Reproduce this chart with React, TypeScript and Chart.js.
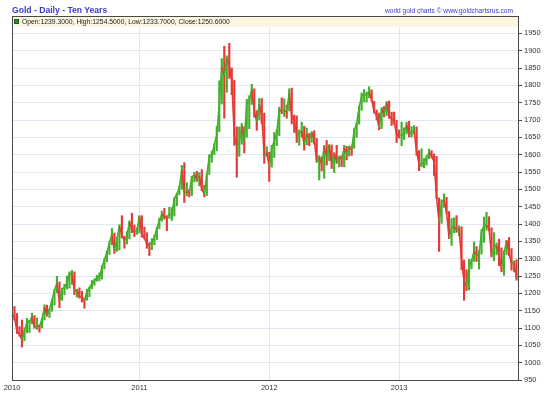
import React, { useEffect, useRef } from "react";
import { Chart, registerables } from "chart.js";

Chart.register(...registerables);

// Weekly OHLC summaries (week ending Friday)
const firstOpen = 1097;

const close2010 = [1138, 1131, 1090, 1083, 1065, 1092, 1117, 1118, 1133, 1102, 1107, 1105, 1125, 1161, 1136, 1155, 1180, 1209, 1229, 1176, 1212, 1217, 1229, 1256, 1256, 1208, 1210, 1190, 1189, 1181, 1204, 1216, 1228, 1236, 1246, 1246, 1275, 1297, 1318, 1345, 1369, 1325, 1357, 1394, 1366, 1352, 1364, 1406, 1385, 1379, 1380, 1421];
const high2010 = [1140, 1162, 1142, 1104, 1123, 1100, 1128, 1122, 1143, 1136, 1129, 1109, 1127, 1167, 1166, 1156, 1181, 1211, 1249, 1233, 1215, 1226, 1250, 1262, 1266, 1262, 1212, 1216, 1206, 1184, 1212, 1218, 1237, 1242, 1252, 1259, 1280, 1300, 1321, 1349, 1387, 1374, 1361, 1398, 1424, 1365, 1378, 1409, 1431, 1397, 1388, 1424];
const low2010 = [1096, 1123, 1084, 1076, 1045, 1063, 1086, 1087, 1112, 1099, 1096, 1088, 1100, 1123, 1134, 1130, 1148, 1166, 1202, 1159, 1180, 1196, 1212, 1215, 1226, 1196, 1189, 1186, 1175, 1157, 1180, 1190, 1213, 1223, 1235, 1236, 1241, 1270, 1291, 1312, 1340, 1315, 1321, 1325, 1360, 1330, 1342, 1357, 1375, 1364, 1370, 1374];

const close2011 = [1369, 1360, 1342, 1341, 1348, 1361, 1388, 1409, 1429, 1421, 1419, 1428, 1428, 1474, 1486, 1504, 1556, 1491, 1492, 1491, 1536, 1542, 1529, 1539, 1500, 1486, 1542, 1595, 1600, 1628, 1658, 1747, 1852, 1828, 1876, 1857, 1813, 1656, 1624, 1636, 1683, 1642, 1747, 1755, 1788, 1725, 1696, 1746, 1711, 1598, 1606, 1565];
const high2011 = [1424, 1391, 1375, 1346, 1358, 1368, 1390, 1417, 1437, 1445, 1424, 1448, 1447, 1476, 1489, 1510, 1569, 1577, 1519, 1500, 1537, 1549, 1552, 1548, 1557, 1512, 1545, 1600, 1610, 1632, 1681, 1813, 1877, 1913, 1885, 1921, 1850, 1815, 1680, 1680, 1690, 1680, 1760, 1770, 1803, 1790, 1727, 1762, 1762, 1720, 1623, 1607];
const low2011 = [1362, 1357, 1330, 1309, 1326, 1340, 1355, 1386, 1408, 1414, 1381, 1416, 1410, 1423, 1453, 1484, 1500, 1462, 1481, 1478, 1482, 1521, 1523, 1510, 1496, 1478, 1482, 1543, 1578, 1600, 1611, 1666, 1746, 1705, 1780, 1820, 1773, 1627, 1535, 1595, 1630, 1605, 1650, 1675, 1745, 1708, 1670, 1700, 1690, 1575, 1595, 1523];

const close2012 = [1617, 1640, 1663, 1729, 1725, 1726, 1725, 1777, 1710, 1700, 1657, 1662, 1668, 1630, 1660, 1643, 1664, 1645, 1580, 1592, 1572, 1622, 1592, 1627, 1571, 1604, 1580, 1594, 1585, 1620, 1603, 1620, 1615, 1669, 1690, 1737, 1770, 1772, 1772, 1780, 1759, 1724, 1713, 1677, 1731, 1715, 1751, 1712, 1702, 1696, 1657, 1656];
const high2012 = [1627, 1664, 1671, 1737, 1764, 1761, 1743, 1790, 1792, 1714, 1712, 1672, 1694, 1682, 1677, 1661, 1666, 1669, 1647, 1597, 1594, 1627, 1641, 1629, 1628, 1606, 1627, 1596, 1597, 1627, 1624, 1625, 1625, 1675, 1692, 1741, 1778, 1788, 1781, 1796, 1787, 1754, 1729, 1720, 1736, 1739, 1753, 1755, 1722, 1723, 1699, 1671];
const low2012 = [1564, 1592, 1626, 1655, 1718, 1710, 1705, 1726, 1689, 1664, 1635, 1627, 1650, 1613, 1628, 1626, 1635, 1630, 1578, 1527, 1553, 1532, 1570, 1583, 1560, 1548, 1575, 1565, 1566, 1565, 1585, 1596, 1598, 1618, 1650, 1688, 1728, 1752, 1752, 1764, 1754, 1720, 1700, 1672, 1675, 1709, 1713, 1705, 1684, 1688, 1635, 1648];

const close2013 = [1656, 1662, 1687, 1658, 1667, 1667, 1609, 1572, 1573, 1577, 1592, 1607, 1596, 1580, 1476, 1405, 1462, 1469, 1434, 1360, 1387, 1393, 1383, 1387, 1296, 1234, 1223, 1278, 1293, 1322, 1310, 1313, 1377, 1396, 1396, 1387, 1308, 1333, 1338, 1310, 1272, 1315, 1352, 1315, 1287, 1288, 1244, 1250];
const high2013 = [1694, 1678, 1694, 1696, 1681, 1684, 1680, 1612, 1617, 1589, 1597, 1616, 1612, 1602, 1595, 1475, 1470, 1487, 1477, 1436, 1416, 1418, 1424, 1395, 1392, 1296, 1268, 1298, 1298, 1348, 1335, 1323, 1384, 1420, 1434, 1421, 1389, 1375, 1345, 1356, 1331, 1323, 1353, 1361, 1329, 1294, 1297, 1265];
const low2013 = [1626, 1644, 1660, 1651, 1651, 1660, 1598, 1554, 1565, 1562, 1570, 1588, 1591, 1540, 1473, 1321, 1402, 1448, 1430, 1358, 1338, 1375, 1376, 1366, 1268, 1180, 1208, 1210, 1271, 1292, 1292, 1270, 1313, 1347, 1382, 1380, 1305, 1294, 1311, 1280, 1262, 1252, 1312, 1309, 1267, 1262, 1238, 1221];

const firstWeekEnding = new Date(2010, 0, 8);
const yTicks = { min: 950, max: 2000, step: 50, lastLabel: 1950 };
const titleText = "Gold - Daily - Ten Years";
const creditText = "world gold charts \u00A9 www.goldchartsrus.com";
const legendText = "Open:1239.3000, High:1254.5000, Low:1233.7000, Close:1250.6000";

const GREEN = "#44b02c";
const RED = "#e53a36";
const GRID = "#dde8f2";
const FRAME = "#4a4a4a";
const FONT = "'Liberation Sans', Arial, sans-serif";

export default function App() {
  const ref = useRef<HTMLCanvasElement | null>(null);

  useEffect(() => {
    const closes = [...close2010, ...close2011, ...close2012, ...close2013];
    const highs = [...high2010, ...high2011, ...high2012, ...high2013];
    const lows = [...low2010, ...low2011, ...low2012, ...low2013];
    const dates = closes.map((_, i) => {
      const d = new Date(firstWeekEnding);
      d.setDate(d.getDate() + 7 * i);
      return d;
    });
    const labels = dates.map((d) => d.toISOString().slice(0, 10));
    const yearLabel = (i: number): string => {
      if (i === 0) return String(dates[0].getFullYear());
      if (i + 1 < dates.length && dates[i + 1].getFullYear() !== dates[i].getFullYear())
        return String(dates[i + 1].getFullYear());
      return "";
    };
    const up = closes.map((c, i) => c >= (i === 0 ? firstOpen : closes[i - 1]));

    const framePlugin = {
      id: "frame",
      beforeDatasetsDraw(chart: any) {
        const { ctx, chartArea: a } = chart;
        ctx.save();
        ctx.fillStyle = "#fcf6e3";
        ctx.fillRect(a.left, a.top, a.right - a.left, 11);
        ctx.restore();
      },
      afterDatasetsDraw(chart: any) {
        const { ctx, chartArea: a } = chart;
        ctx.save();
        ctx.strokeStyle = FRAME;
        ctx.lineWidth = 1;
        ctx.strokeRect(a.left + 0.5, a.top + 0.5, a.right - a.left - 1, a.bottom - a.top);
        ctx.restore();
      },
    };

    const chart = new Chart(ref.current as HTMLCanvasElement, {
      type: "bar",
      data: {
        labels,
        datasets: [
          {
            type: "bar",
            data: lows.map((l, i) => [l, highs[i]]),
            backgroundColor: up.map((u) => (u ? GREEN : RED)),
            barThickness: 1.5,
            order: 2,
          } as any,
          {
            type: "line",
            data: closes,
            borderWidth: 1.6,
            pointRadius: 0,
            tension: 0,
            borderColor: GREEN,
            segment: {
              borderColor: (c: any) => (c.p1.parsed.y >= c.p0.parsed.y ? GREEN : RED),
            },
            order: 1,
          } as any,
        ],
      },
      options: {
        animation: false,
        responsive: false,
        devicePixelRatio: 1,
        layout: { padding: { left: 12, top: 16, right: 0, bottom: 0 } },
        plugins: { legend: { display: false }, tooltip: { enabled: false }, title: { display: false } },
        scales: {
          x: {
            type: "category",
            offset: false,
            border: { display: false },
            grid: {
              offset: false,
              drawTicks: false,
              color: (c: any) => (c.index !== undefined && yearLabel(c.index) ? GRID : "rgba(0,0,0,0)"),
            },
            ticks: {
              autoSkip: false,
              maxRotation: 0,
              minRotation: 0,
              padding: 3,
              color: "#333",
              font: { family: FONT, size: 7.5 },
              callback: (_v: any, i: number) => yearLabel(i),
            },
            afterFit: (s: any) => {
              s.height = 17;
            },
          },
          y: {
            position: "right",
            min: yTicks.min,
            max: yTicks.max,
            border: { display: false },
            grid: { color: GRID, tickColor: FRAME, tickLength: 3 },
            ticks: {
              stepSize: yTicks.step,
              padding: 2,
              color: "#333",
              font: { family: FONT, size: 7.5 },
              callback: (v: any) => String(v),
            },
            afterBuildTicks: (s: any) => {
              s.ticks = s.ticks.filter((t: any) => t.value <= yTicks.lastLabel);
            },
            afterFit: (s: any) => {
              s.width = 28;
            },
          },
        },
      },
      plugins: [framePlugin],
    });
    return () => chart.destroy();
  }, []);

  return (
    <div style={{ position: "fixed", left: 0, top: 0, width: 547, height: 397, background: "#fff", fontFamily: FONT }}>
      <canvas ref={ref} width={547} height={397} style={{ position: "absolute", left: 0, top: 0 }} />
      <div style={{ position: "absolute", left: 12, top: 5, fontSize: 8.6, lineHeight: "10px", fontWeight: "bold", color: "#3a3ad0", whiteSpace: "nowrap" }}>
        {titleText}
      </div>
      <div style={{ position: "absolute", right: 34, top: 6, fontSize: 6.6, lineHeight: "10px", color: "#3a3ad0", whiteSpace: "nowrap" }}>
        {creditText}
      </div>
      <div style={{ position: "absolute", left: 14, top: 19, width: 5, height: 5, background: "#2f8f2a", border: "1px solid #1a5a1a", boxSizing: "border-box" }} />
      <div style={{ position: "absolute", left: 22, top: 16.5, fontSize: 6.8, lineHeight: "10px", color: "#222", whiteSpace: "nowrap" }}>
        {legendText}
      </div>
    </div>
  );
}
